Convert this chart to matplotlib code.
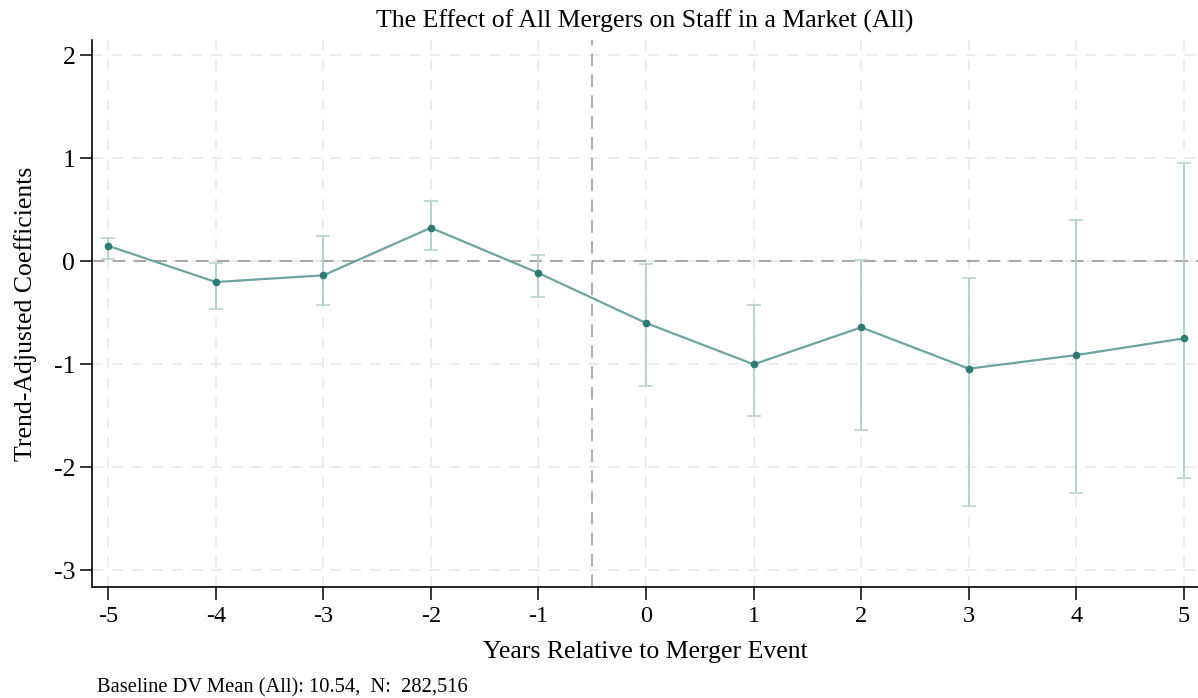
import numpy as np
import matplotlib
matplotlib.use("Agg")
import matplotlib.pyplot as plt

plt.rcParams['font.family'] = ['Liberation Serif', 'DejaVu Serif']

# event-study coefficients
years = [-5, -4, -3, -2, -1, 0, 1, 2, 3, 4, 5]
coef = [0.148, -0.204, -0.139, 0.323, -0.117, -0.602, -1.003, -0.644, -1.045, -0.913, -0.751]
ci_hi = [0.226, -0.016, 0.246, 0.583, 0.058, -0.026, -0.427, 0.013, -0.162, 0.398, 0.948]
ci_lo = [0.016, -0.469, -0.430, 0.104, -0.346, -1.214, -1.505, -1.640, -2.379, -2.256, -2.104]
yticks = [-3, -2, -1, 0, 1, 2]
note = "Baseline DV Mean (All): 10.54,  N:  282,516"

coef = np.array(coef)
err = np.vstack([coef - np.array(ci_lo), np.array(ci_hi) - coef])

fig = plt.figure(figsize=(11.98, 6.98), dpi=100)
ax = fig.add_axes([92 / 1198, 1 - 587 / 698, 1 - 92 / 1198, (587 - 40) / 698])

ax.set_xlim(-5.15, 5.13)
ax.set_ylim(-3.165, 2.146)

# grid
for x in years:
    ax.axvline(x, color='#ebebeb', lw=1.3, ls=(0, (6, 5)), zorder=0)
for y in yticks:
    ax.axhline(y, color='#ebebeb', lw=1.3, ls=(0, (6, 5)), zorder=0)

ax.axhline(0, color='#a8a8a8', lw=1.5, ls=(0, (6, 4)), zorder=1)
ax.axvline(-0.5, color='#b0b0b0', lw=1.5, ls=(0, (6, 4)), zorder=1)

ax.errorbar(years, coef, yerr=err, fmt='none', ecolor='#b3cfcd', elinewidth=1.3,
            capsize=5, capthick=1.1, zorder=2)
ax.plot(years, coef, color='#6fa39f', lw=1.6, zorder=3)
ax.plot(years, coef, 'o', color='#2f7a72', ms=4.5, zorder=4)

ax.spines['top'].set_visible(False)
ax.spines['right'].set_visible(False)
ax.spines['left'].set_linewidth(1.2)
ax.spines['bottom'].set_linewidth(1.2)

ax.set_xticks(years)
ax.set_xticklabels([str(v) for v in years])
ax.set_yticks(yticks)
ax.set_yticklabels([str(v) for v in yticks])
ax.tick_params(axis='both', length=9, width=1.1, direction='out')
ax.tick_params(axis='x', labelsize=17.5, pad=5)
ax.tick_params(axis='y', labelsize=18.5, pad=3)

ax.set_title("The Effect of All Mergers on Staff in a Market (All)", fontsize=18.5, pad=9)
ax.set_xlabel("Years Relative to Merger Event", fontsize=18.5, labelpad=10)
ax.set_ylabel("Trend-Adjusted Coefficients", fontsize=18.5, labelpad=12)

fig.text(97 / 1198, 1 - 688 / 698, note, fontsize=14.8, va='center', ha='left')

fig.savefig("out.png", dpi=100)
